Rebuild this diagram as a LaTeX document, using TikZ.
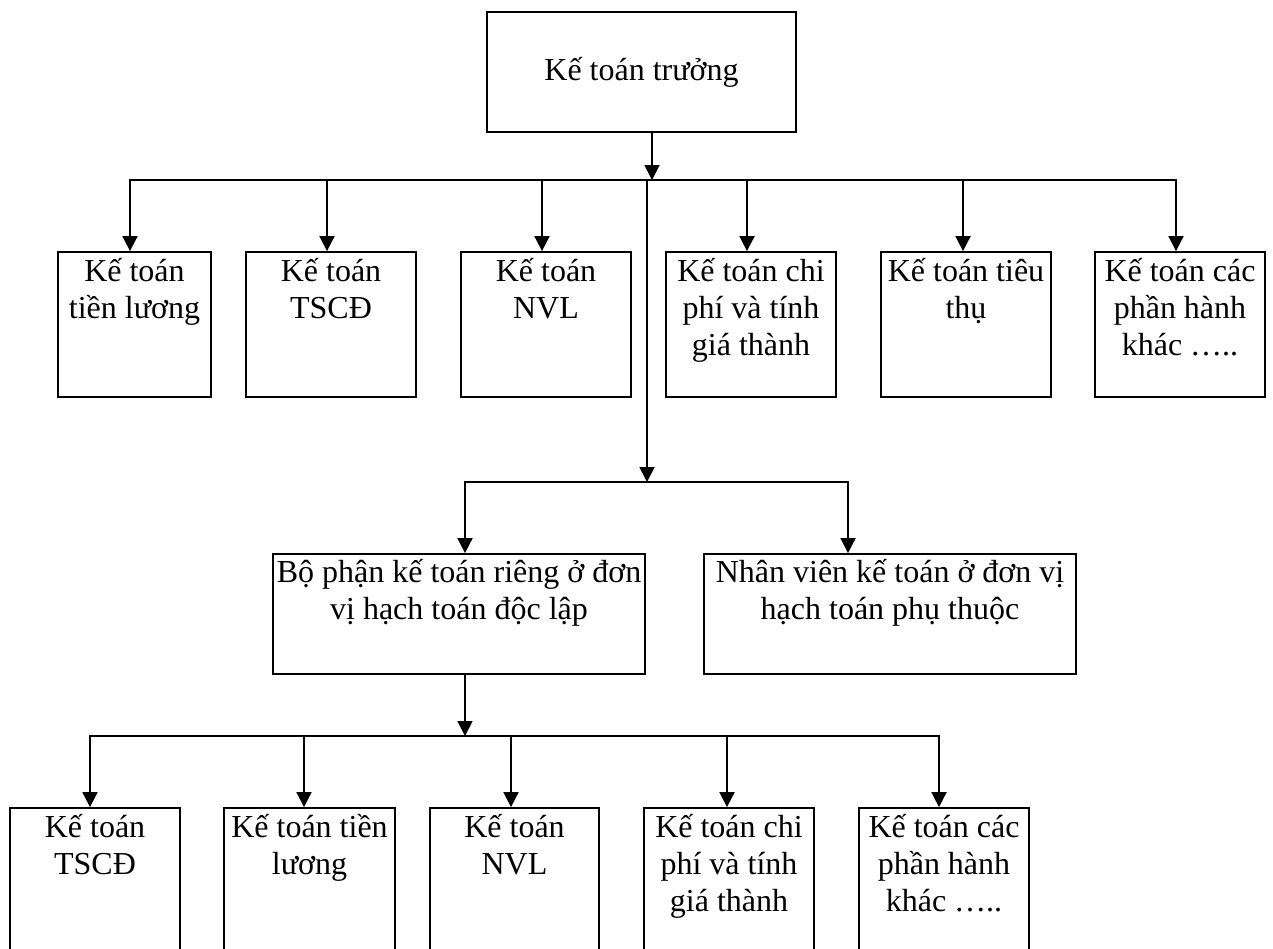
\documentclass[tikz,border=0pt]{standalone}
\usepackage{fontspec}
\setmainfont{Liberation Serif}
\usetikzlibrary{arrows.meta}
\begin{document}
\begin{tikzpicture}[x=1pt,y=-1pt,
  box/.style={draw, line width=1.8pt, rectangle, inner sep=0pt},
  lbl/.style={anchor=north, inner sep=0pt, align=center, font=\fontsize{32}{37}\selectfont},
  arr/.style={line width=1.8pt, -{Triangle[length=15pt,width=15pt]}},
  ln/.style={line width=1.8pt, line cap=rect}]
\useasboundingbox (0,0) rectangle (1273,948);
\clip (0,0) rectangle (1273,948);

% top
\node[box, minimum width=309pt, minimum height=120pt, text height=24pt, text depth=8pt, font=\fontsize{32}{37}\selectfont] (top) at (641.5,72) {Kế toán trưởng};

% row 1 boxes
\node[box, minimum width=153pt, minimum height=145pt] (b1) at (134.5,324.5) {};
\node[box, minimum width=170pt, minimum height=145pt] (b2) at (331,324.5) {};
\node[box, minimum width=170pt, minimum height=145pt] (b3) at (546,324.5) {};
\node[box, minimum width=170pt, minimum height=145pt] (b4) at (751,324.5) {};
\node[box, minimum width=170pt, minimum height=145pt] (b5) at (966,324.5) {};
\node[box, minimum width=170pt, minimum height=145pt] (b6) at (1180,324.5) {};
\node[lbl] (tb1) at ([yshift=4pt]b1.north) {\rule{0pt}{34pt}Kế toán\\tiền lương};
\node[lbl] (tb2) at ([yshift=4pt]b2.north) {\rule{0pt}{34pt}Kế toán\\TSCĐ};
\node[lbl] (tb3) at ([yshift=4pt]b3.north) {\rule{0pt}{34pt}Kế toán\\NVL};
\node[lbl] (tb4) at ([yshift=4pt]b4.north) {\rule{0pt}{34pt}Kế toán chi\\phí và tính\\giá thành};
\node[lbl] (tb5) at ([yshift=4pt]b5.north) {\rule{0pt}{34pt}Kế toán tiêu\\thụ};
\node[lbl] (tb6) at ([yshift=4pt]b6.north) {\rule{0pt}{34pt}Kế toán các\\phần hành\\khác …..};

% middle boxes
\node[box, minimum width=372pt, minimum height=120pt] (L) at (459,614) {};
\node[box, minimum width=372pt, minimum height=120pt] (R) at (890,614) {};
\node[lbl] (tL) at ([yshift=5pt]L.north) {\rule{0pt}{34pt}Bộ phận kế toán riêng ở đơn\\vị hạch toán độc lập};
\node[lbl] (tR) at ([yshift=5pt]R.north) {\rule{0pt}{34pt}Nhân viên kế toán ở đơn vị\\hạch toán phụ thuộc};

% bottom boxes
\node[box, minimum width=170pt, minimum height=160pt] (c1) at (95,888) {};
\node[box, minimum width=171pt, minimum height=160pt] (c2) at (309.5,888) {};
\node[box, minimum width=169pt, minimum height=160pt] (c3) at (514.5,888) {};
\node[box, minimum width=170pt, minimum height=160pt] (c4) at (729,888) {};
\node[box, minimum width=170pt, minimum height=160pt] (c5) at (944,888) {};
\node[lbl] (tc1) at ([yshift=4pt]c1.north) {\rule{0pt}{34pt}Kế toán\\TSCĐ};
\node[lbl] (tc2) at ([yshift=4pt]c2.north) {\rule{0pt}{34pt}Kế toán tiền\\lương};
\node[lbl] (tc3) at ([yshift=4pt]c3.north) {\rule{0pt}{34pt}Kế toán\\NVL};
\node[lbl] (tc4) at ([yshift=4pt]c4.north) {\rule{0pt}{34pt}Kế toán chi\\phí và tính\\giá thành};
\node[lbl] (tc5) at ([yshift=4pt]c5.north) {\rule{0pt}{34pt}Kế toán các\\phần hành\\khác …..};

% connectors: top to row 1
\coordinate (j) at (652,180);
\draw[arr] (top.south -| j) -- (j);
\coordinate (d1) at (130,180);
\coordinate (d2) at (327,180);
\coordinate (d3) at (542,180);
\coordinate (d4) at (747,180);
\coordinate (d5) at (963,180);
\coordinate (d6) at (1176,180);
\draw[ln] (d1) -- (d6);
\foreach \i in {1,...,6} {\draw[arr] (d\i) -- (d\i |- b\i.north);}

% trunk to middle row
\coordinate (t0) at (647,180);
\coordinate (t1) at (647,482);
\draw[arr] (t0) -- (t1);
\coordinate (m1) at (465,482);
\coordinate (m2) at (848,482);
\draw[ln] (m1) -- (m2);
\draw[arr] (m1) -- (m1 |- L.north);
\draw[arr] (m2) -- (m2 |- R.north);

% middle left to bottom row
\coordinate (u) at (465,736);
\draw[arr] (L.south -| u) -- (u);
\coordinate (p1) at (90,736);
\coordinate (p2) at (304,736);
\coordinate (p3) at (511,736);
\coordinate (p4) at (727,736);
\coordinate (p5) at (939,736);
\draw[ln] (p1) -- (p5);
\foreach \i in {1,...,5} {\draw[arr] (p\i) -- (p\i |- c\i.north);}
\end{tikzpicture}
\end{document}
